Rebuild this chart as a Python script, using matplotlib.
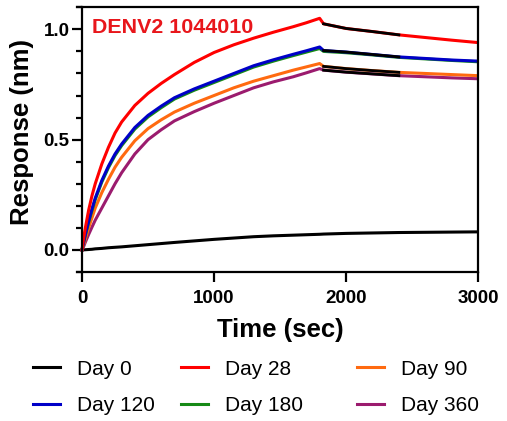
import matplotlib
matplotlib.use('Agg')
import matplotlib.pyplot as plt
from matplotlib.ticker import MultipleLocator

plt.rcParams['font.family'] = ['Liberation Sans', 'DejaVu Sans']

# time points (sec), association 0-1800 then dissociation
time = [0, 10, 25, 50, 75, 100, 150, 200, 250, 300, 400, 500, 600, 700, 850,
        1000, 1150, 1300, 1450, 1600, 1700, 1800,
        1830, 2000, 2200, 2400, 2600, 2800, 3000]

day0 = [0, 0.0005, 0.001, 0.002, 0.003, 0.005, 0.007, 0.010, 0.012, 0.014, 0.019,
        0.024, 0.029, 0.034, 0.041, 0.048, 0.054, 0.060, 0.064, 0.067, 0.069, 0.071,
        0.072, 0.075, 0.077, 0.079, 0.080, 0.081, 0.082]
day28 = [0, 0.045, 0.10, 0.18, 0.245, 0.30, 0.39, 0.465, 0.53, 0.58, 0.655,
         0.71, 0.755, 0.795, 0.85, 0.895, 0.93, 0.96, 0.987, 1.012, 1.03, 1.05,
         1.025, 1.004, 0.99, 0.975, 0.963, 0.951, 0.94]
day90 = [0, 0.02, 0.05, 0.10, 0.145, 0.19, 0.26, 0.32, 0.375, 0.42, 0.495,
         0.55, 0.59, 0.625, 0.665, 0.70, 0.735, 0.765, 0.79, 0.815, 0.83, 0.845,
         0.832, 0.822, 0.813, 0.805, 0.80, 0.795, 0.79]
day120 = [0, 0.03, 0.07, 0.13, 0.185, 0.235, 0.315, 0.38, 0.435, 0.48, 0.555,
          0.61, 0.652, 0.69, 0.73, 0.765, 0.80, 0.835, 0.862, 0.887, 0.903, 0.92,
          0.904, 0.897, 0.886, 0.875, 0.868, 0.861, 0.856]
day180 = [0, 0.028, 0.066, 0.125, 0.178, 0.228, 0.308, 0.373, 0.428, 0.473, 0.548,
          0.603, 0.645, 0.684, 0.724, 0.759, 0.794, 0.829, 0.856, 0.881, 0.897, 0.913,
          0.90, 0.894, 0.884, 0.873, 0.866, 0.859, 0.853]
day360 = [0, 0.012, 0.035, 0.07, 0.103, 0.135, 0.19, 0.245, 0.30, 0.35, 0.435,
          0.50, 0.545, 0.585, 0.627, 0.665, 0.70, 0.735, 0.762, 0.785, 0.803, 0.822,
          0.815, 0.806, 0.798, 0.79, 0.785, 0.78, 0.776]

# dissociation fit window
fit_start, fit_end = 1830, 2400

fig = plt.figure(figsize=(5.07, 4.21), dpi=100)
ax = fig.add_axes([0.1519, 0.3539, 0.791, 0.6288])

lw = 2.2
ax.plot(time, day0, color='black', lw=lw, label='Day 0')
ax.plot(time, day360, color='#9b1b6e', lw=lw, label='Day 360')
ax.plot(time, day90, color='#ff6a10', lw=lw, label='Day 90')
ax.plot(time, day180, color='#168a16', lw=lw, label='Day 180')
ax.plot(time, day120, color='#0000c8', lw=lw, label='Day 120')
ax.plot(time, day28, color='#ff0000', lw=lw, label='Day 28')

idx = [i for i, t in enumerate(time) if fit_start <= t <= fit_end]
for series in [day28, day120, day90, day360]:
    ax.plot([time[i] for i in idx], [series[i] for i in idx], color='black', lw=2.0)

ax.set_xlim(-38, 3000)
ax.set_ylim(-0.1, 1.1)
ax.spines['left'].set_position(('data', 0))
for s in ax.spines.values():
    s.set_linewidth(1.6)

ax.set_xticks([0, 1000, 2000, 3000])
ax.set_yticks([0.0, 0.5, 1.0])
ax.set_yticklabels(['0.0', '0.5', '1.0'])
ax.yaxis.set_minor_locator(MultipleLocator(0.1))
ax.tick_params(axis='both', which='major', direction='out', length=7, width=1.6,
               labelsize=13.5)
ax.tick_params(axis='y', which='minor', direction='out', length=4, width=1.6)
ax.tick_params(axis='x', pad=6)
ax.tick_params(axis='y', pad=2)
for lab in ax.get_xticklabels() + ax.get_yticklabels():
    lab.set_fontweight('bold')

ax.set_xlabel('Time (sec)', fontsize=18.5, fontweight='bold')
ax.set_ylabel('Response (nm)', fontsize=18.5, fontweight='bold')
ax.xaxis.set_label_coords(0.506, -0.174)
ax.yaxis.set_label_coords(-0.107, 0.527)

ax.text(78, 1.008, 'DENV2 1044010', color='#e8161b', fontsize=15.4,
        fontweight='bold', va='center', ha='left')

handles = {h.get_label(): h for h in ax.get_lines() if not h.get_label().startswith('_')}
columns = [(['Day 0', 'Day 120'], 33), (['Day 28', 'Day 180'], 181), (['Day 90', 'Day 360'], 357)]
for names, xpx in columns:
    fig.legend([handles[n] for n in names], names, loc='upper left',
               bbox_to_anchor=(xpx / 507, 0.1456), frameon=False, fontsize=15,
               handlelength=1.3, handletextpad=0.82, labelspacing=0.83,
               borderpad=0, borderaxespad=0)

fig.savefig('out.png', dpi=100)
